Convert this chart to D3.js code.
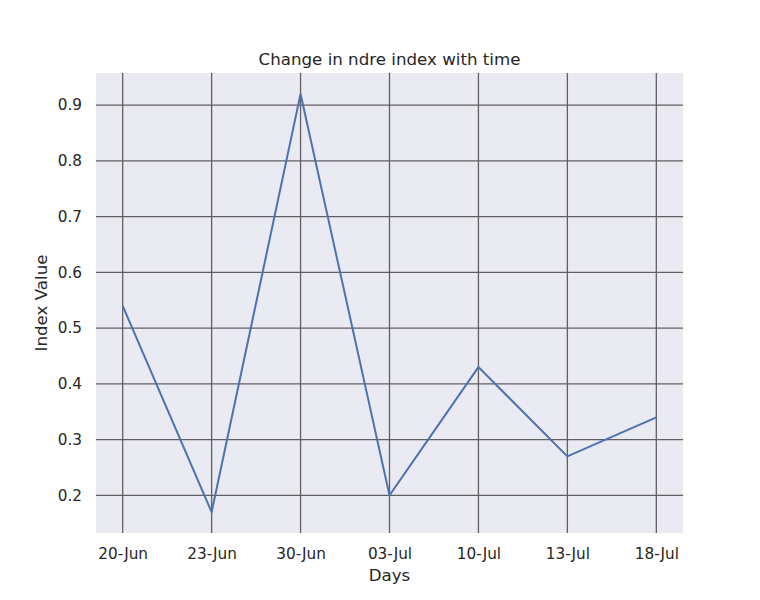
<!DOCTYPE html>
<html>
<head>
<meta charset="utf-8">
<script src="https://cdn.jsdelivr.net/npm/d3@7"></script>
<style>
  body { margin: 0; background: #fff; }
  text { font-family: "DejaVu Sans", sans-serif; fill: #262626; }
</style>
</head>
<body>
<svg id="chart" width="760" height="600"></svg>
<script>
// Chart data
const days = ["20-Jun", "23-Jun", "30-Jun", "03-Jul", "10-Jul", "13-Jul", "18-Jul"];
const ndreValues = [0.54, 0.17, 0.92, 0.20, 0.43, 0.27, 0.34];
const yTicks = [0.2, 0.3, 0.4, 0.5, 0.6, 0.7, 0.8, 0.9];

let margin = { top: 73, right: 77, bottom: 67, left: 96 },
  width = 760 - margin.left - margin.right,
  height = 600 - margin.top - margin.bottom,
  lineColor = "#4c72b0",
  gridColor = "#606060",
  bgColor = "#eaeaf2",
  tickFontSize = 15.28, // 11pt
  labelFontSize = 16.67; // 12pt

const svg = d3.select("#chart");
const g = svg.append("g").attr("transform", "translate(" + margin.left + "," + margin.top + ")");

// matplotlib style 5% margins
const xScale = d3.scalePoint().domain(days).range([0, width]).padding(0.3);
const yMin = d3.min(ndreValues), yMax = d3.max(ndreValues);
const pad = (yMax - yMin) * 0.05;
const yScale = d3.scaleLinear().domain([yMin - pad, yMax + pad]).range([height, 0]);

// Background
g.append("rect").attr("width", width).attr("height", height).attr("fill", bgColor);

// Grid lines
g.selectAll(".hgrid").data(yTicks).enter().append("line")
  .attr("x1", 0).attr("x2", width)
  .attr("y1", d => yScale(d)).attr("y2", d => yScale(d))
  .attr("stroke", gridColor).attr("stroke-width", 1.3);

g.selectAll(".vgrid").data(days).enter().append("line")
  .attr("x1", d => xScale(d)).attr("x2", d => xScale(d))
  .attr("y1", 0).attr("y2", height)
  .attr("stroke", gridColor).attr("stroke-width", 1.3);

// Axes (labels only)
const xAxis = g.append("g").attr("transform", "translate(0," + height + ")")
  .call(d3.axisBottom(xScale).tickSize(0).tickPadding(15));
const yAxis = g.append("g")
  .call(d3.axisLeft(yScale).tickValues(yTicks).tickFormat(d3.format(".1f")).tickSize(0).tickPadding(14));
[xAxis, yAxis].forEach(a => {
  a.select(".domain").remove();
  a.selectAll("text").attr("font-size", tickFontSize).attr("fill", "#262626")
    .attr("font-family", "DejaVu Sans, sans-serif");
});

// Line
const line = d3.line().x((d, i) => xScale(days[i])).y(d => yScale(d));
g.append("path").datum(ndreValues)
  .attr("d", line)
  .attr("fill", "none")
  .attr("stroke", lineColor)
  .attr("stroke-width", 2);

// Title and axis labels
svg.append("text").attr("x", margin.left + width / 2).attr("y", 65)
  .attr("text-anchor", "middle").attr("font-size", labelFontSize).text("Change in ndre index with time");
svg.append("text").attr("x", margin.left + width / 2).attr("y", 581)
  .attr("text-anchor", "middle").attr("font-size", labelFontSize).text("Days");
svg.append("text").attr("transform", "translate(47," + (margin.top + height / 2) + ") rotate(-90)")
  .attr("text-anchor", "middle").attr("font-size", labelFontSize).text("Index Value");
</script>
</body>
</html>
